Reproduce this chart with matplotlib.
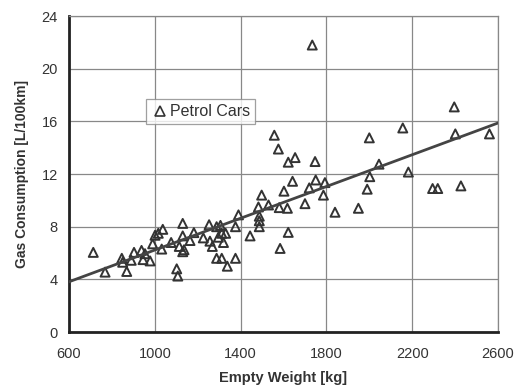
import numpy as np
import matplotlib
matplotlib.use("Agg")
import matplotlib.pyplot as plt
from matplotlib.lines import Line2D

plt.rcParams['font.family'] = ['Liberation Sans', 'DejaVu Sans']

# empty weight [kg] and consumption [L/100km]
weight = [713, 768, 846, 850, 869, 890, 903, 938, 954, 945, 978, 990, 1001,
          1016, 1037, 1032, 1076, 1102, 1107, 1130, 1114, 1130, 1130, 1136,
          1164, 1182, 1226, 1253, 1257, 1268, 1288, 1306, 1296, 1312, 1320,
          1330, 1288, 1312, 1338, 1376, 1376, 1390, 1444, 1487, 1487, 1487,
          1483, 1498, 1530, 1580, 1602, 1618, 1622, 1584, 1642, 1557, 1576,
          1622, 1654, 1700, 1720, 1734, 1747, 1750, 1786, 1793, 1840, 1949,
          1990, 2002, 2000, 2045, 2156, 2182, 2295, 2319, 2396, 2401, 2427,
          2560]
consumption = [6.05, 4.55, 5.6, 5.3, 4.6, 5.45, 6.05, 6.2, 5.95, 5.5, 5.4, 6.7,
               7.35, 7.5, 7.8, 6.3, 6.8, 4.8, 4.25, 8.25, 6.5, 7.3, 6.1, 6.25,
               6.95, 7.55, 7.15, 8.15, 6.9, 6.5, 8.0, 8.1, 7.2, 7.5, 6.8, 7.5,
               5.6, 5.6, 5.0, 5.6, 8.0, 8.9, 7.3, 8.0, 8.45, 8.8, 9.5, 10.4,
               9.65, 9.45, 10.7, 9.4, 7.57, 6.35, 11.45, 14.95, 13.9, 12.9,
               13.25, 9.75, 10.95, 21.8, 12.95, 11.55, 10.4, 11.35, 9.1, 9.4,
               10.85, 11.8, 14.75, 12.75, 15.5, 12.15, 10.9, 10.9, 17.1, 15.05,
               11.1, 15.05]

trend_slope = 0.00603
trend_intercept = 0.2

xticks = [600, 1000, 1400, 1800, 2200, 2600]
yticks = [0, 4, 8, 12, 16, 20, 24]

fig = plt.figure(figsize=(5.27, 3.92), dpi=100)
ax = fig.add_axes([0.131, 0.153, 0.814, 0.806])

ax.scatter(weight, consumption, marker='^', s=42, facecolors='none',
           edgecolors='#333333', linewidths=1.4, zorder=3)

xl = np.array([600, 2600])
ax.plot(xl, trend_slope * xl + trend_intercept, color='#444444', lw=2, zorder=4)

ax.set_xlim(600, 2600)
ax.set_ylim(0, 24)
ax.set_xticks(xticks)
ax.set_yticks(yticks)
ax.grid(True, color='#888888', lw=0.9)
ax.set_axisbelow(True)
ax.tick_params(length=0, labelsize=10.5, colors='#333333')
ax.tick_params(axis='x', pad=11)
ax.tick_params(axis='y', pad=8)

for s in ['top', 'right']:
    ax.spines[s].set_color('#888888')
    ax.spines[s].set_linewidth(0.9)
for s in ['left', 'bottom']:
    ax.spines[s].set_color('#222222')
    ax.spines[s].set_linewidth(2)

ax.set_xlabel('Empty Weight [kg]', fontsize=10.5, fontweight='bold', color='#333333', labelpad=7)
ax.set_ylabel('Gas Consumption [L/100km]', fontsize=10, fontweight='bold', color='#333333', labelpad=9)

handle = Line2D([], [], marker='^', ls='none', mfc='none', mec='#333333', mew=1.2, ms=7.5)
leg = ax.legend([handle], ['Petrol Cars'], loc='upper left', bbox_to_anchor=(0.18, 0.736),
                frameon=True, fancybox=False, fontsize=11.5, handletextpad=0.1,
                borderpad=0.3, handlelength=1.1, borderaxespad=0)
leg.get_frame().set_edgecolor('#888888')
leg.get_frame().set_linewidth(0.9)
for t in leg.get_texts():
    t.set_color('#333333')

fig.savefig('out.png', dpi=100)
